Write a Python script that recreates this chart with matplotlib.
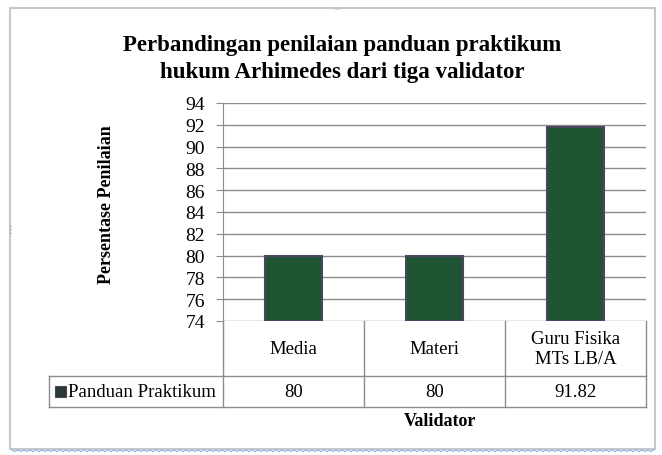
import numpy as np
import matplotlib.pyplot as plt
from matplotlib.patches import Rectangle

# data
categories = ['Media', 'Materi', 'Guru Fisika\nMTs LB/A']
values = [80, 80, 91.82]
value_labels = ['80', '80', '91.82']
series_name = 'Panduan Praktikum'
ymin, ymax, ystep = 74, 94, 2

plt.rcParams['font.family'] = ['Liberation Serif', 'DejaVu Serif']

W, H = 662, 456
fig = plt.figure(figsize=(W / 100, H / 100), dpi=100)

# frame of the embedded chart
fig.patches.append(Rectangle((10 / W, 1 - 450 / H), 645 / W, 441 / H, transform=fig.transFigure,
                             fill=False, edgecolor='#c4c8cc', lw=1.5))
xs_w = np.arange(12, 656, 3)
fig.add_artist(plt.Line2D(xs_w / W, 1 - (451 + np.tile([0, 1.5], len(xs_w))[:len(xs_w)]) / H,
                          transform=fig.transFigure, color='#8fb0d8', lw=0.8))
fig.text(338 / W, 1 - 9 / H, '....', ha='center', va='center', fontsize=5, color='#888888')
fig.text(11 / W, 1 - 230 / H, '⋮', ha='center', va='center', fontsize=7, color='#888888',
         family='DejaVu Sans')

# plot area
left, right, top, bottom = 223, 646, 104, 322
ax = fig.add_axes([left / W, 1 - bottom / H, (right - left) / W, (bottom - top) / H])
x = np.arange(len(categories))
ax.bar(x, np.array(values) - ymin, bottom=ymin, width=0.4, color='#1f5533',
       edgecolor='#4a4660', lw=1.5, zorder=3)
ax.set_xlim(-0.5, len(categories) - 0.5)
ax.set_ylim(ymin, ymax)
ax.set_yticks(np.arange(ymin, ymax + 1, ystep))
ax.yaxis.grid(True, color='#8c8c8c', lw=1)
ax.set_axisbelow(True)
ax.set_xticks([])
for s in ['top', 'right', 'bottom']:
    ax.spines[s].set_visible(False)
ax.spines['left'].set_color('#8c8c8c')
ax.tick_params(axis='y', length=5, color='#8c8c8c', labelsize=14, pad=8)
fig.text(107 / W, 1 - 205 / H, 'Persentase Penilaian', rotation=90, ha='center', va='center',
         fontsize=13, fontweight='bold')

# data table under the axis
ph = bottom - top
pw = right - left
r1 = -(377 - bottom) / ph
r2 = -(408 - bottom) / ph
tl = (49 - left) / pw
lc = '#8c8c8c'
kw = dict(transform=ax.transAxes, clip_on=False, color=lc, lw=1)
for xb in np.linspace(0, 1, len(categories) + 1):
    ax.plot([xb, xb], [0, r2], **kw)
ax.plot([tl, 1], [r1, r1], **kw)
ax.plot([tl, 1], [r2, r2], **kw)
ax.plot([tl, tl], [r1, r2], **kw)
for i, (c, v) in enumerate(zip(categories, value_labels)):
    xc = (i + 0.5) / len(categories)
    ax.text(xc, r1 / 2, c, transform=ax.transAxes, ha='center', va='center', fontsize=13.5,
            linespacing=1.25)
    ax.text(xc, (r1 + r2) / 2, v, transform=ax.transAxes, ha='center', va='center', fontsize=13.5)
ax.add_patch(Rectangle(((55 - left) / pw, (r1 + r2) / 2 - 5.5 / ph), 11 / pw, 11 / ph,
                       transform=ax.transAxes, clip_on=False, facecolor='#2a3a33',
                       edgecolor='#4a4660', lw=0.8))
ax.text((68 - left) / pw, (r1 + r2) / 2, series_name, transform=ax.transAxes,
        ha='left', va='center', fontsize=13.5)
ax.text((440 - left) / pw, -(422 - bottom) / ph, 'Validator', transform=ax.transAxes,
        ha='center', va='center', fontsize=13, fontweight='bold')

fig.text(342 / W, 1 - 59 / H,
         'Perbandingan penilaian panduan praktikum\nhukum Arhimedes dari tiga validator',
         ha='center', va='center', fontsize=16.5, fontweight='bold', linespacing=1.32)

fig.savefig('out.png', dpi=100)
